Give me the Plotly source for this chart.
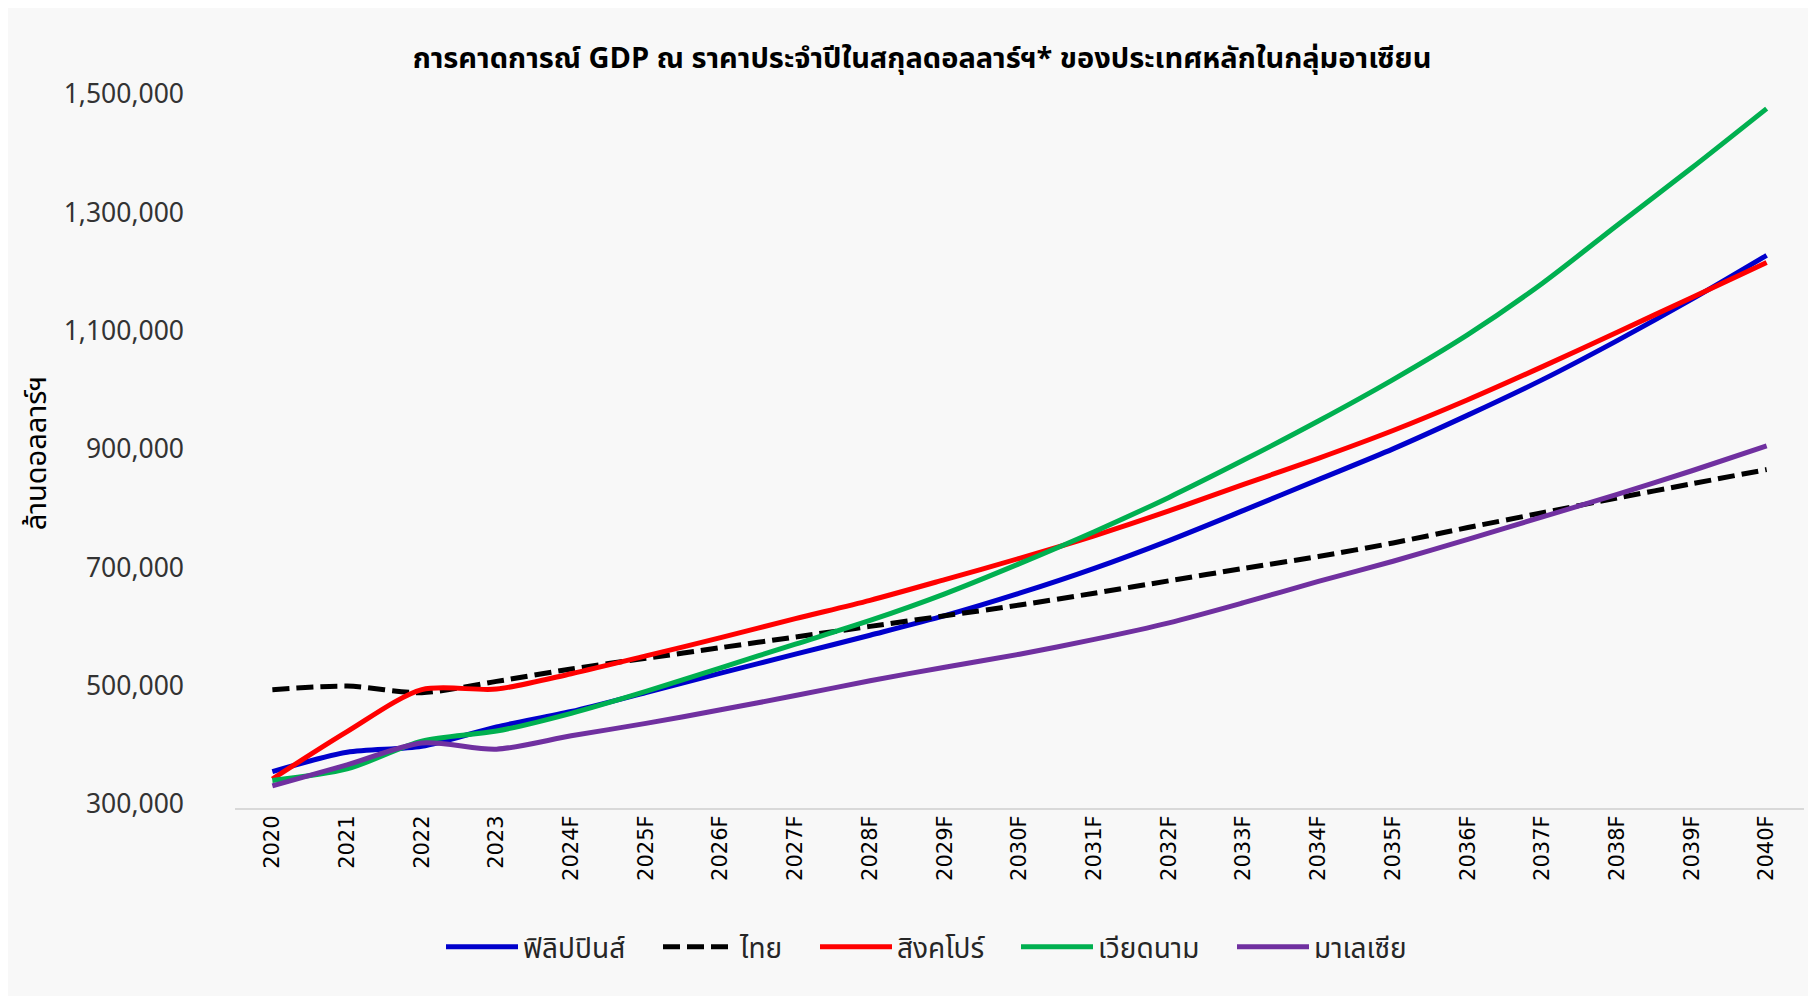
import plotly.graph_objects as go

years = ["2020", "2021", "2022", "2023", "2024F", "2025F", "2026F", "2027F", "2028F",
         "2029F", "2030F", "2031F", "2032F", "2033F", "2034F", "2035F", "2036F",
         "2037F", "2038F", "2039F", "2040F"]

philippines = [361500, 394100, 404300, 437100, 463000, 495000, 528000, 560000, 592000,
               625000, 663000, 705000, 752000, 803000, 855000, 907000, 964000,
               1024000, 1090000, 1160000, 1234000]
thailand = [500000, 506000, 495000, 514000, 535000, 553000, 571000, 589000, 607000,
            625000, 643000, 663000, 684000, 705000, 725000, 748000, 774000,
            799000, 824000, 848000, 872000]
singapore = [349000, 429000, 500000, 501000, 527000, 557000, 588000, 620000, 651000,
             686000, 722000, 760000, 802000, 847000, 891000, 938000, 990000,
             1046000, 1104000, 1163000, 1222000]
vietnam = [346600, 366000, 413000, 430000, 460000, 497000, 537000, 577000, 617000,
           662000, 713000, 767000, 825000, 888000, 954000, 1024000, 1100000,
           1187000, 1285000, 1382000, 1482000]
malaysia = [337500, 373000, 410000, 399500, 422000, 443000, 466000, 490000, 515000,
            538000, 560000, 585000, 613000, 647000, 683000, 717000, 754000,
            792000, 830000, 870000, 912000]

series_names = ["ฟิลิปปินส์", "ไทย", "สิงคโปร์", "เวียดนาม", "มาเลเซีย"]
series_values = [philippines, thailand, singapore, vietnam, malaysia]
series_colors = ["#0000CC", "#000000", "#FF0000", "#00B050", "#7030A0"]
series_dash = ["solid", "17px,7px", "solid", "solid", "solid"]
legend_left_px = [438, 655, 812, 1013, 1229]   # legend entry start (figure px)

y_ticks = [300000, 500000, 700000, 900000, 1100000, 1300000, 1500000]

title_text = "การคาดการณ์ GDP ณ ราคาประจำปีในสกุลดอลลาร์ฯ* ของประเทศหลักในกลุ่มอาเซียน"
y_title = "ล้านดอลลาร์ฯ"

THAI_FONT = "Noto Sans Thai, Noto Sans Thai UI, Loma, Garuda, Sarabun, Tahoma, DejaVu Sans, sans-serif"

# the page body adds an 8px margin, so the figure is drawn 8px smaller
W, H = 1808, 988
ml, mr, mt, mb = 227, 12, 90, 188
pw, ph = W - ml - mr, H - mt - mb


def px_x(p):
    return (p - ml) / pw


def px_y(p):
    return (H - mb - p) / ph


fig = go.Figure()
legend_layout = {}
for i, (name, vals, col, dash, lx) in enumerate(
        zip(series_names, series_values, series_colors, series_dash, legend_left_px)):
    lname = "legend" if i == 0 else f"legend{i + 1}"
    fig.add_trace(go.Scatter(
        x=years, y=vals, name=name, mode="lines", legend=lname,
        line=dict(color=col, width=5, dash=dash, shape="spline", smoothing=0.8),
        hovertemplate="%{x}: %{y:,.0f}<extra>" + name + "</extra>",
    ))
    legend_layout[lname] = dict(
        orientation="h", x=px_x(lx - 5), xanchor="left", y=px_y(939), yanchor="middle",
        font=dict(family=THAI_FONT, size=28, color="#262626"),
        bgcolor="rgba(0,0,0,0)", itemwidth=72, borderwidth=0,
    )

fig.update_layout(
    width=W, height=H,
    margin=dict(l=ml, r=mr, t=mt, b=mb, pad=0),
    paper_bgcolor="#F8F8F8",
    plot_bgcolor="rgba(0,0,0,0)",
    title=dict(text="<b>" + title_text + "</b>", x=914 / W, xref="container", xanchor="center",
               y=1 - 50 / H, yref="container", yanchor="middle",
               font=dict(family=THAI_FONT, size=29, color="#000000")),
    font=dict(family=THAI_FONT, color="#262626"),
    showlegend=True,
    xaxis=dict(
        type="category", range=[-0.5, len(years) - 0.5],
        showgrid=False, zeroline=False,
        showline=True, linecolor="#D9D9D9", linewidth=2,
        ticks="", tickangle=-90,
        tickfont=dict(family="DejaVu Sans", size=21, color="#000000"),
        ticklabelstandoff=-3,
    ),
    yaxis=dict(
        range=[300000, 1500000], tickvals=y_ticks, tickformat=",",
        showgrid=False, zeroline=False, showline=False, ticks="",
        tickfont=dict(family="Noto Sans", size=26.5, color="#333333"),
        ticklabelstandoff=50, ticklabelshift=-4,
        title=dict(text=y_title, standoff=8, font=dict(family=THAI_FONT, size=29, color="#000000")),
    ),
    **legend_layout,
)

fig.write_html("out.html")
